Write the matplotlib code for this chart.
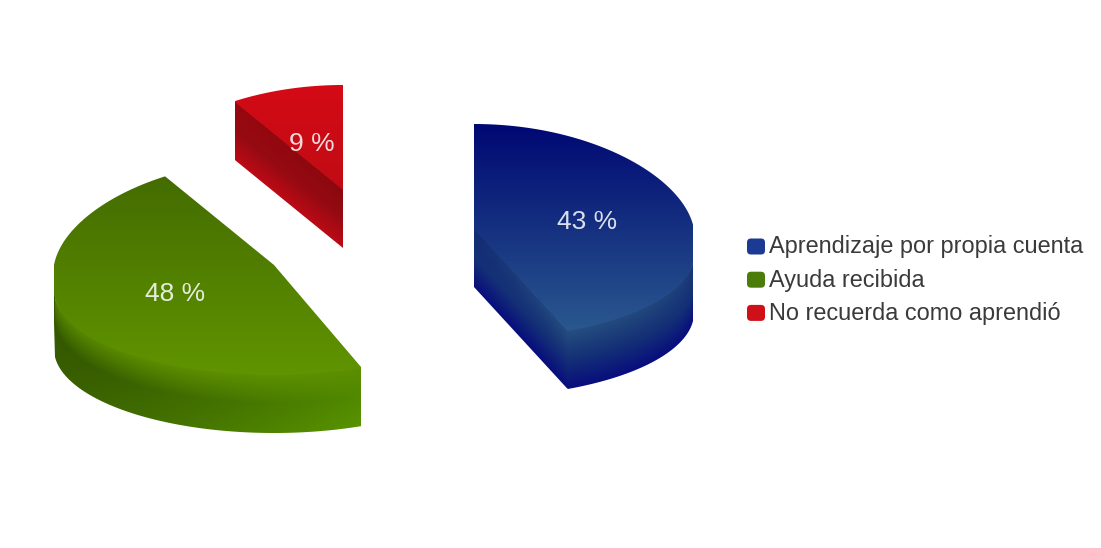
import numpy as np
import matplotlib
matplotlib.use('Agg')
import matplotlib.pyplot as plt
from matplotlib.patches import Polygon, FancyBboxPatch

plt.rcParams['font.family'] = ['Liberation Sans', 'DejaVu Sans']

# chart data
labels = ['Aprendizaje por propia cuenta', 'Ayuda recibida', 'No recuerda como aprendió']
values = [43, 48, 9]

# where each slice got pulled out to, in pixels
centers_x = [474, 274, 343]
centers_y = [229, 265, 190]
right_limit = [None, 361, None]

# shading per slice: back of top, front of top, bottom of the side
top_back = [(0, 8, 115), (68, 108, 0), (212, 10, 22)]
top_front = [(42, 88, 142), (96, 148, 0), (192, 12, 20)]
side_edge = [0.9, 0.97, 0.72]
side_mid = [(20, 48, 118), (66, 112, 0), (150, 10, 18)]
side_low = [(8, 14, 125), (72, 120, 0), (188, 10, 22)]
side_gain = [0.0, 0.45, 0.0]
swatch_colors = ['#1b3a94', '#4c7d0a', '#cf1019']

RX = 220
RY_BACK = 105
RY_FRONT = 110
SAG = 26
PERSP = 0.09
DEPTH = 58


def slice_outline(cx, cy, start, end):
    th = np.radians(np.linspace(start, end, 400))
    s = np.sin(th)
    x = cx + RX * np.cos(th) * (1 - PERSP * np.maximum(s, 0))
    # front half of the rim hangs lower than the back half
    y = np.where(s >= 0, cy - RY_BACK * s, cy + SAG + (RY_FRONT - SAG) * (-s))
    return np.r_[cx, x], np.r_[cy, y]


def lower_edge(px, py, xs):
    # lowest point of the closed outline in every column
    low = np.full_like(xs, -np.inf)
    ex = np.r_[px, px[0]]
    ey = np.r_[py, py[0]]
    for i in range(len(px)):
        x0, x1 = ex[i], ex[i + 1]
        if x0 == x1:
            continue
        a, b = min(x0, x1), max(x0, x1)
        m = (xs >= a) & (xs <= b)
        yy = ey[i] + (xs[m] - x0) * (ey[i + 1] - ey[i]) / (x1 - x0)
        low[m] = np.maximum(low[m], yy)
    return low


def lerp(c0, c1, t):
    c0 = np.array(c0, float) / 255
    c1 = np.array(c1, float) / 255
    t = np.clip(t, 0, 1)[..., None]
    return c0 + (c1 - c0) * t


fig = plt.figure(figsize=(11.01, 5.48), dpi=100)
ax = fig.add_axes([0, 0, 1, 1])
ax.set_xlim(0, 1101)
ax.set_ylim(548, 0)
ax.axis('off')

angle = 90
for i, v in enumerate(values):
    start = angle
    end = angle - v * 3.6
    angle = end
    cx, cy = centers_x[i], centers_y[i]
    px, py = slice_outline(cx, cy, start, end)

    x0, x1 = px.min(), px.max()
    if right_limit[i] is not None:
        x1 = min(x1, right_limit[i])
    y0, y1 = py.min(), py.max()
    xs = np.arange(np.floor(x0), np.ceil(x1) + 1)
    low = lower_edge(px, py, xs + 0.0)
    good = np.isfinite(low)
    xs = xs[good]
    low = low[good]
    x0, x1 = xs[0], xs[-1]

    # side wall first, shaded down from the rim
    ys = np.arange(y0, y1 + DEPTH + 2)
    X, Y = np.meshgrid(xs, ys)
    rim_y = np.interp(X, xs, low)
    rim = lerp(top_back[i], top_front[i], (rim_y - y0) / (y1 - y0)) * side_edge[i]
    t = (Y - rim_y) / DEPTH
    gain = (1 + side_gain[i] * ((X - x0) / (x1 - x0) - 0.5))[..., None]
    mid = np.array(side_mid[i], float) / 255 * gain
    bot = np.array(side_low[i], float) / 255 * gain
    k = np.clip(t / 0.5, 0, 1)[..., None]
    k2 = np.clip((t - 0.5) / 0.5, 0, 1)[..., None]
    side_rgb = np.clip(rim + (mid - rim) * k + (bot - mid) * k2, 0, 1)
    im = ax.imshow(side_rgb, extent=[x0, x1, ys[-1], ys[0]], aspect='auto', zorder=2)
    wall = Polygon(np.c_[np.r_[xs, xs[::-1]], np.r_[low - 1, (low + DEPTH)[::-1]]],
                   closed=True, transform=ax.transData, fc='none', ec='none')
    ax.add_patch(wall)
    im.set_clip_path(wall)

    # top face
    t_top = (Y[:, :1] - y0) / (y1 - y0)
    top_rgb = np.repeat(lerp(top_back[i], top_front[i], t_top), len(xs), axis=1)
    im2 = ax.imshow(top_rgb, extent=[x0, x1, ys[-1], ys[0]], aspect='auto', zorder=3)
    face = Polygon(np.c_[np.minimum(px, x1), py], closed=True, transform=ax.transData,
                   fc='none', ec='none')
    ax.add_patch(face)
    im2.set_clip_path(face)

    # value label halfway along the middle of the slice
    th = np.radians((start + end) / 2)
    ax.text(cx + 0.52 * RX * np.cos(th) + 1, cy - 0.5 * RY_BACK * np.sin(th) + 4, f'{v} %',
            color='white', alpha=0.85, fontsize=19, ha='center', va='center', zorder=5)

ax.set_xlim(0, 1101)
ax.set_ylim(548, 0)

# legend
for i, name in enumerate(labels):
    yc = 246.5 + i * 33.2
    ax.add_patch(FancyBboxPatch((747, yc - 8), 18, 16, boxstyle='round,pad=0,rounding_size=4',
                                fc=swatch_colors[i], ec='none', zorder=4))
    ax.text(769, yc + 0.5, name, color='#3a3a3a', fontsize=16.9, ha='left', va='center', zorder=4)

fig.savefig('out.png', dpi=100, facecolor='white')
